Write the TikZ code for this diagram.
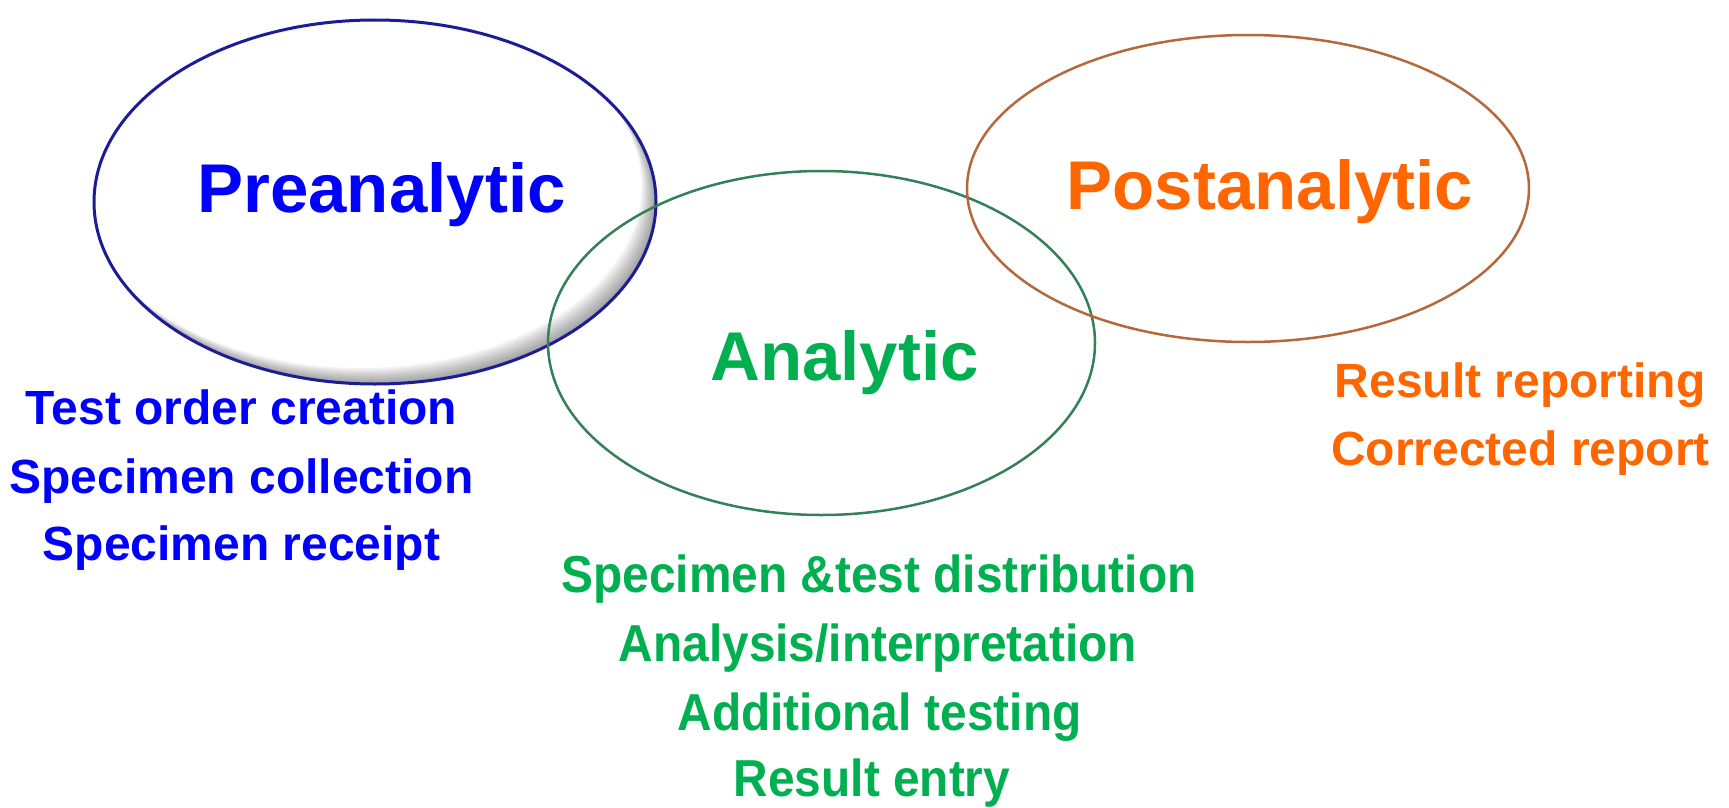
\documentclass[tikz,border=0pt]{standalone}
\usepackage{fontspec}
\setmainfont{Liberation Sans}
\newfontfamily\narrowfont[FakeStretch=0.92]{Liberation Sans}
\definecolor{preblue}{RGB}{0,0,255}
\definecolor{prering}{RGB}{28,28,150}
\definecolor{angreen}{RGB}{0,176,80}
\definecolor{anring}{RGB}{52,128,88}
\definecolor{postorange}{RGB}{255,102,0}
\definecolor{postring}{RGB}{180,105,60}
\tikzset{
  bigtitle/.style={anchor=base, inner sep=0pt, font=\fontsize{69}{69}\selectfont\bfseries},
  smalltext/.style={anchor=base, inner sep=0pt, font=\fontsize{48}{48}\selectfont\bfseries},
  greentext/.style={anchor=base, inner sep=0pt, text=angreen, font=\narrowfont\fontsize{52}{52}\selectfont\bfseries},
}
\begin{document}
\begin{tikzpicture}[x=1pt,y=-1pt]
\useasboundingbox (0,0) rectangle (1729,808);
\fill[white] (0,0) rectangle (1729,808);
% Preanalytic ellipse with inner shadow
\begin{scope}
  \clip (375,202) ellipse [x radius=281, y radius=182];
  \foreach \d in {2,4,...,16} {
    \fill[black, opacity=0.05, even odd rule] (-100,-100) rectangle (1900,900)
      (375-\d*0.9,202-\d) ellipse [x radius=281, y radius=182];
  }
\end{scope}
\draw[prering, line width=3pt] (375,202) ellipse [x radius=281, y radius=182];
% Analytic ellipse
\draw[anring, line width=2.5pt] (821.5,343) ellipse [x radius=273.5, y radius=172];
% Postanalytic ellipse
\draw[postring, line width=2.5pt] (1248,188.5) ellipse [x radius=281, y radius=153.5];
% titles
\node[bigtitle, text=preblue] (pre) at (381.5,212.8) {Preanalytic};
\node[bigtitle, text=angreen] (ana) at (844.5,380) {Analytic};
\node[bigtitle, text=postorange] (post) at (1270,209.5) {Postanalytic};
% preanalytic items
\node[smalltext, text=preblue] (p1) at (241.5,424.5) {Test order creation};
\node[smalltext, text=preblue] (p2) at (241.5,493) {Specimen collection};
\node[smalltext, text=preblue] (p3) at (241.5,560) {Specimen receipt};
% analytic items
\node[greentext] (a1) at (879,592) {Specimen \&test distribution};
\node[greentext] (a2) at (878,661.6) {Analysis/interpretation};
\node[greentext] (a3) at (879.5,730) {Additional testing};
\node[greentext] (a4) at (872,796) {Result entry};
% postanalytic items
\node[smalltext, text=postorange] (o1) at (1520,397) {Result reporting};
\node[smalltext, text=postorange] (o2) at (1520.5,465) {Corrected report};
\end{tikzpicture}
\end{document}
